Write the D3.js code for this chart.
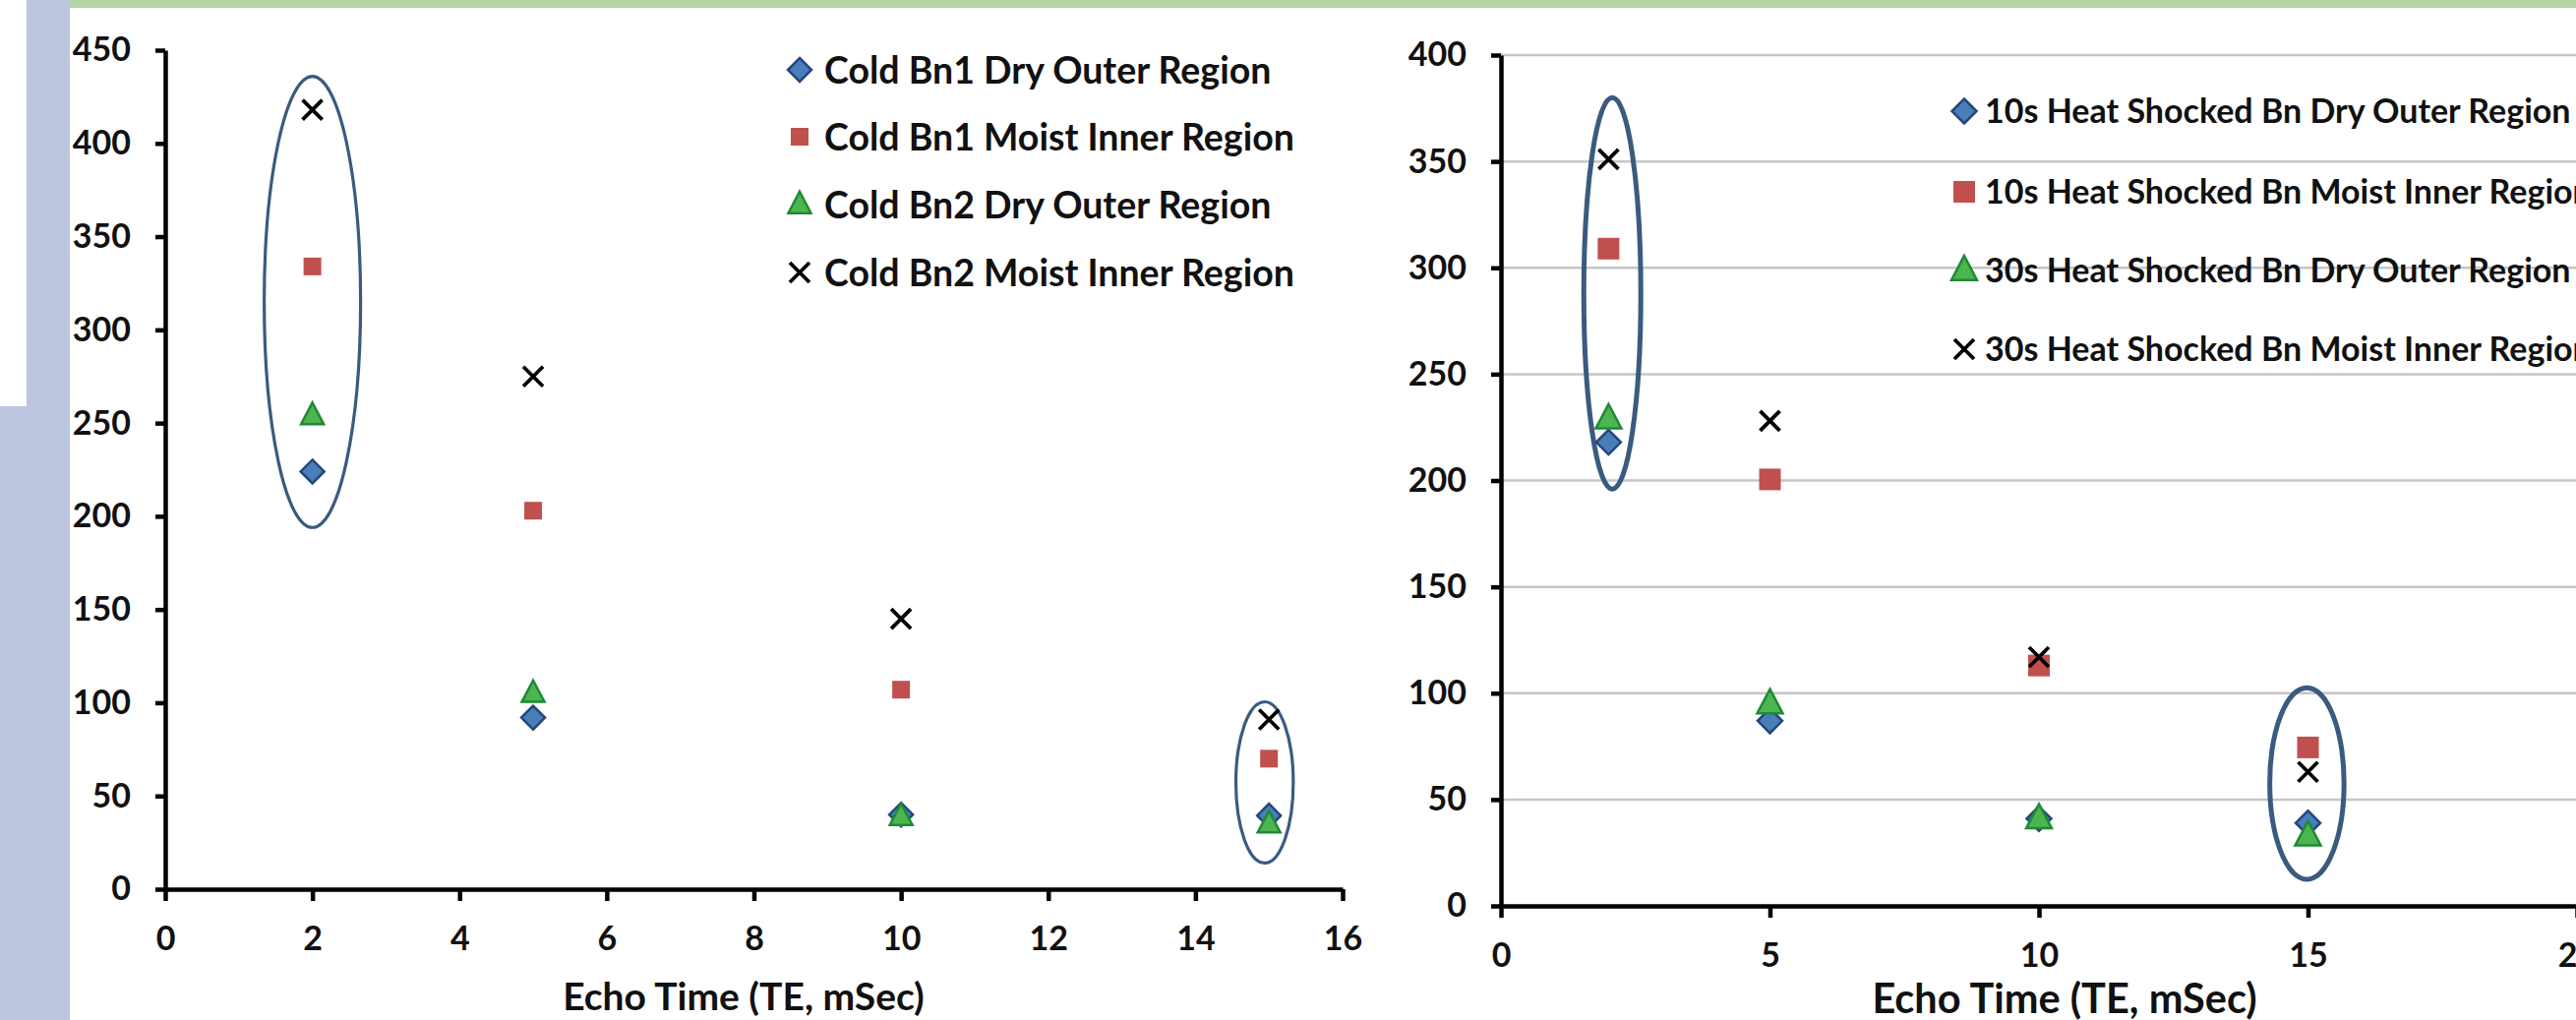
<!DOCTYPE html>
<html>
<head>
<meta charset="utf-8">
<script src="https://cdn.jsdelivr.net/npm/d3@7"></script>
<style>
  html, body { margin: 0; padding: 0; background: #fff; overflow: hidden; }
  svg { display: block; }
  text { font-family: Lato, "Open Sans", sans-serif; font-weight: 700; fill: #111; }
</style>
</head>
<body>
<svg id="chart" width="2619" height="1037"></svg>
<script>
// Echo times (ms) and mean signal per region
const coldTE = [2, 5, 10, 15];
const coldBn1Dry   = [224, 92, 40, 39.5];
const coldBn1Moist = [334, 203, 107, 70];
const coldBn2Dry   = [254, 105, 39, 35];
const coldBn2Moist = [418, 275, 145, 91];
const coldNames = ["Cold Bn1 Dry Outer Region", "Cold Bn1 Moist Inner Region",
                   "Cold Bn2 Dry Outer Region", "Cold Bn2 Moist Inner Region"];

const heatTE = [2, 5, 10, 15];
const heat10Dry   = [218, 87, 41, 39];
const heat10Moist = [309, 200.5, 113, 74.5];
const heat30Dry   = [229, 95, 41, 33];
const heat30Moist = [351, 228, 117, 63];
const heatNames = ["10s Heat Shocked Bn Dry Outer Region", "10s Heat Shocked Bn Moist Inner Region",
                   "30s Heat Shocked Bn Dry Outer Region", "30s Heat Shocked Bn Moist Inner Region"];

// Highlighted groups: [echo time, low value, high value, half width in ms]
const coldGroups = [[2, 194, 436, 0.655], [14.94, 14, 100.5, 0.39]];
const heatGroups = [[2.07, 196, 380, 0.53], [14.98, 12.5, 102.6, 0.69]];

const coldYTicks = [0, 50, 100, 150, 200, 250, 300, 350, 400, 450];
const coldXTicks = [0, 2, 4, 6, 8, 10, 12, 14, 16];
const heatYTicks = [0, 50, 100, 150, 200, 250, 300, 350, 400];
const heatXTicks = [0, 5, 10, 15, 20];
const axisTitle = "Echo Time (TE, mSec)";

const svg = d3.select("#chart");

// slide decoration
svg.append("rect").attr("x", 0).attr("y", 0).attr("width", 2619).attr("height", 1037).attr("fill", "#fff");
svg.append("rect").attr("x", 71).attr("y", 0).attr("width", 2548).attr("height", 8).attr("fill", "#b4d6a3");
svg.append("rect").attr("x", 27).attr("y", 0).attr("width", 44).attr("height", 1037).attr("fill", "#bcc6df");
svg.append("rect").attr("x", 0).attr("y", 413).attr("width", 27).attr("height", 624).attr("fill", "#bcc6df");

// marker shapes
function markerPath(kind, s) {
  if (kind === "diamond") return `M0,${-s.d} L${s.d},0 L0,${s.d} L${-s.d},0 Z`;
  if (kind === "square") return `M${-s.q},${-s.q} H${s.q} V${s.q} H${-s.q} Z`;
  if (kind === "triangle") return `M0,${-s.t * 1.15} L${s.t},${s.t * 0.75} L${-s.t},${s.t * 0.75} Z`;
  return `M${-s.x},${-s.x} L${s.x},${s.x} M${s.x},${-s.x} L${-s.x},${s.x}`;
}
const kinds = ["diamond", "square", "triangle", "cross"];
const styles = {
  diamond:  { fill: "#4a7ebb", stroke: "#24477a", sw: 2.5 },
  square:   { fill: "#c0504d", stroke: "none", sw: 0 },
  triangle: { fill: "#4cb54f", stroke: "#1f8a36", sw: 2.5 },
  cross:    { fill: "none", stroke: "#000", sw: 3.8 }
};

function drawMarker(g, kind, x, y, size) {
  const st = styles[kind];
  g.append("path")
    .attr("d", markerPath(kind, size))
    .attr("transform", `translate(${x},${y})`)
    .attr("fill", st.fill).attr("stroke", st.stroke).attr("stroke-width", st.sw)
    .attr("stroke-linejoin", "miter");
}

function drawChart(cfg) {
  const g = svg.append("g");
  const x = d3.scaleLinear().domain(cfg.xDomain).range(cfg.xRange);
  const y = d3.scaleLinear().domain(cfg.yDomain).range(cfg.yRange);

  // gridlines
  if (cfg.grid) {
    g.append("g").selectAll("line")
      .data(cfg.yTicks.filter(v => v > 0))
      .join("line")
      .attr("x1", x(0)).attr("x2", 2700)
      .attr("y1", d => y(d)).attr("y2", d => y(d))
      .attr("stroke", "#c6c6c6").attr("stroke-width", 2.5);
  }

  // axes
  const yAxis = g.append("g").attr("transform", `translate(${x(0)},0)`)
    .call(d3.axisLeft(y).tickValues(cfg.yTicks).tickFormat(d3.format("d"))
      .tickSize(10).tickSizeOuter(0).tickPadding(25));
  const xAxis = g.append("g").attr("transform", `translate(0,${y(0)})`)
    .call(d3.axisBottom(x).tickValues(cfg.xTicks).tickFormat(d3.format("d"))
      .tickSize(12).tickSizeOuter(0));
  [yAxis, xAxis].forEach(a => {
    a.select(".domain").attr("stroke", "#000").attr("stroke-width", 4.5);
    a.selectAll(".tick line").attr("stroke", "#000").attr("stroke-width", 4.5);
    a.selectAll("text").attr("fill", "#111").style("font-size", cfg.tickFont + "px")
      .style("font-family", "Lato, sans-serif").style("font-weight", 700);
  });
  xAxis.selectAll("text").attr("y", 50).attr("dy", "0.36em");

  // axis title
  g.append("text")
    .attr("x", cfg.titleX).attr("y", cfg.titleY)
    .attr("text-anchor", "middle")
    .style("font-size", cfg.titleFont + "px")
    .text(axisTitle);

  // highlight ellipses
  g.append("g").selectAll("ellipse")
    .data(cfg.groups)
    .join("ellipse")
    .attr("cx", d => x(d[0]))
    .attr("cy", d => y((d[1] + d[2]) / 2))
    .attr("rx", d => x(d[0] + d[3]) - x(d[0]))
    .attr("ry", d => y(d[1]) - y((d[1] + d[2]) / 2))
    .attr("fill", "none").attr("stroke", "#3b5a80").attr("stroke-width", cfg.ringWidth);

  // series points
  cfg.series.forEach((vals, i) => {
    const sg = g.append("g");
    vals.forEach((v, j) => drawMarker(sg, kinds[i], x(cfg.te[j]), y(v), cfg.marker));
  });

  // legend
  cfg.names.forEach((name, i) => {
    const ly = cfg.legendY[i];
    drawMarker(g, kinds[i], cfg.legendX, ly, cfg.marker);
    g.append("text")
      .attr("x", cfg.legendX + cfg.legendGap).attr("y", ly)
      .attr("dy", "0.36em")
      .style("font-size", cfg.legendFont + "px")
      .text(name);
  });
}

drawChart({
  xDomain: [0, 16], xRange: [168, 1365],
  yDomain: [0, 450], yRange: [904, 51],
  xTicks: coldXTicks, yTicks: coldYTicks, grid: false,
  te: coldTE, series: [coldBn1Dry, coldBn1Moist, coldBn2Dry, coldBn2Moist],
  names: coldNames, groups: coldGroups, ringWidth: 3.2,
  marker: { d: 12, q: 9, t: 11.5, x: 10 },
  tickFont: 34, titleFont: 39, titleX: 756, titleY: 1027,
  legendX: 813, legendGap: 25, legendFont: 37.5, legendY: [71, 139, 208, 277]
});

drawChart({
  xDomain: [0, 20], xRange: [1526, 2620],
  yDomain: [0, 400], yRange: [921, 56],
  xTicks: heatXTicks, yTicks: heatYTicks, grid: true,
  te: heatTE, series: [heat10Dry, heat10Moist, heat30Dry, heat30Moist],
  names: heatNames, groups: heatGroups, ringWidth: 5,
  marker: { d: 12.5, q: 11, t: 13, x: 10 },
  tickFont: 34, titleFont: 41.5, titleX: 2099, titleY: 1030,
  legendX: 1997, legendGap: 21, legendFont: 34, legendY: [113, 195, 275, 355]
});
</script>
</body>
</html>
